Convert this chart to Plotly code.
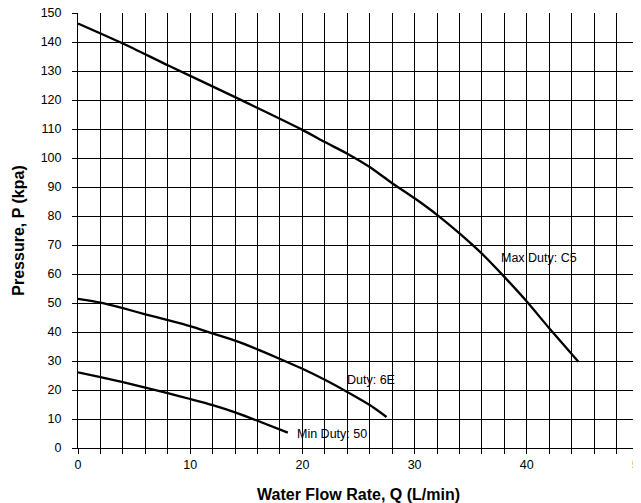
import plotly.graph_objects as go

# Pump curves
max_flow = [0, 4, 8, 14, 20, 22, 24, 26, 28, 30, 32, 34, 36, 38, 40, 42, 44.6]
max_pressure = [146.4, 139.5, 132, 121, 109.7, 105.5, 101.5, 96.9, 91.3, 86.1, 80.4, 74, 67, 59, 50.5, 41.3, 29.7]

duty_flow = [0, 2, 4, 6, 8, 10, 12, 14, 16, 18, 20, 22, 24, 26, 27.5]
duty_pressure = [51.4, 50.1, 48.2, 46.1, 44.1, 42, 39.5, 37, 34, 30.7, 27.3, 23.5, 19.3, 14.8, 10.7]

min_flow = [0, 2, 4, 6, 8, 10, 12, 14, 16, 18.7]
min_pressure = [26.1, 24.4, 22.7, 20.8, 18.9, 16.9, 14.8, 12.3, 9.4, 5.3]

# curve labels: (text, x, y)
labels = [
    ("Max Duty: C5", 37.5, 65.5),
    ("Duty: 6E", 23.8, 23.3),
    ("Min Duty: 50", 19.3, 4.7),
]

font_family = "Liberation Sans, Arial, sans-serif"

fig = go.Figure()

for xs, ys in [(max_flow, max_pressure), (duty_flow, duty_pressure), (min_flow, min_pressure)]:
    fig.add_trace(
        go.Scatter(
            x=xs,
            y=ys,
            mode="lines",
            line=dict(color="black", width=2.3, shape="spline", smoothing=0.6),
            showlegend=False,
            hoverinfo="skip",
        )
    )

for text, x, y in labels:
    fig.add_annotation(
        x=x,
        y=y,
        text=text,
        showarrow=False,
        xanchor="left",
        yanchor="middle",
        font=dict(size=12.5, color="black", family=font_family),
    )

# the page body adds an 8px offset, so the figure is sized to fit inside the window
fig.update_layout(
    width=633,
    height=495,
    margin=dict(l=70, r=2, t=5, b=55),
    plot_bgcolor="white",
    paper_bgcolor="white",
    font=dict(family=font_family, color="black", size=12.5),
    xaxis=dict(
        range=[0, 50],
        dtick=10,
        tick0=0,
        automargin=False,
        showgrid=True,
        gridcolor="black",
        gridwidth=1,
        showline=True,
        linecolor="black",
        linewidth=1,
        ticks="outside",
        ticklen=5,
        tickcolor="black",
        zeroline=False,
        ticklabeloverflow="allow",
        ticklabelstandoff=0,
        minor=dict(dtick=2, showgrid=True, gridcolor="black", gridwidth=1,
                   ticks="outside", ticklen=5, tickcolor="black"),
        title=dict(text="<b>Water Flow Rate, Q (L/min)</b>",
                   font=dict(size=16, family=font_family), standoff=20),
    ),
    yaxis=dict(
        range=[0, 150],
        dtick=10,
        tick0=0,
        automargin=False,
        showgrid=True,
        gridcolor="black",
        gridwidth=1,
        showline=True,
        linecolor="black",
        linewidth=1,
        ticks="outside",
        ticklen=5,
        tickcolor="black",
        zeroline=False,
        ticklabeloverflow="allow",
        ticklabelstandoff=8,
        title=dict(text="<b>Pressure, P (kpa)</b>",
                   font=dict(size=16, family=font_family), standoff=12),
    ),
)

fig.write_html("out.html")
